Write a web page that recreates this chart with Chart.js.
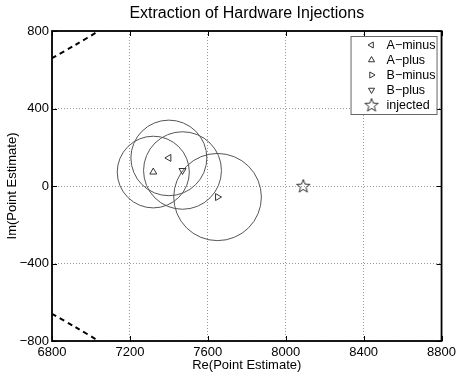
<!DOCTYPE html>
<html>
<head>
<meta charset="utf-8">
<script src="https://cdn.jsdelivr.net/npm/chart.js@4/dist/chart.umd.min.js"></script>
<style>
  html, body { margin: 0; padding: 0; background: #fff; }
  #wrap { width: 460px; height: 375px; }
</style>
</head>
<body>
<div id="wrap"><canvas id="chart"></canvas></div>
<script>
// values
const chartTitle = 'Extraction of Hardware Injections';
const seriesNames = ['A\u2212minus', 'A\u2212plus', 'B\u2212minus', 'B\u2212plus', 'injected'];
const estRe = [7400, 7320, 7650, 7470, 8090];
const estIm = [145, 72, -57, 80, 0];
const errRadius = [195, 185, 225, 200]; // one circle per estimate (not for the injected point)
const boundRe = [6800, 6920, 7040];
const boundUpperIm = [660, 728, 800];
const boundLowerIm = [-660, -728, -800];
const xTicks = [6800, 7200, 7600, 8000, 8400, 8800];
const yTicks = [-800, -400, 0, 400, 800];

Chart.defaults.font.family = '"Liberation Sans", Arial, Helvetica, sans-serif';
Chart.defaults.color = '#000';

const ink = '#333';

// five point star for the injected marker
const starImg = document.createElement('canvas');
starImg.width = 16;
starImg.height = 16;
(function () {
  const c = starImg.getContext('2d');
  c.strokeStyle = ink;
  c.lineWidth = 1;
  c.beginPath();
  for (let k = 0; k < 10; k++) {
    const r = k % 2 === 0 ? 7 : 2.9;
    const a = -Math.PI / 2 + k * Math.PI / 5;
    const px = 8 + r * Math.cos(a), py = 8.5 + r * Math.sin(a);
    if (k === 0) c.moveTo(px, py); else c.lineTo(px, py);
  }
  c.closePath();
  c.stroke();
})();

const markerStyles = [
  { pointStyle: 'triangle', rotation: -90 },
  { pointStyle: 'triangle', rotation: 0 },
  { pointStyle: 'triangle', rotation: 90 },
  { pointStyle: 'triangle', rotation: 180 },
  { pointStyle: starImg, rotation: 0 }
];

const markerSets = seriesNames.map((name, i) => ({
  label: name,
  data: [{ x: estRe[i], y: estIm[i] }],
  pointStyle: markerStyles[i].pointStyle,
  rotation: markerStyles[i].rotation,
  pointRadius: 4,
  borderWidth: 1,
  borderColor: ink,
  backgroundColor: 'rgba(0,0,0,0)'
}));

const boundSet = (ims) => ({
  label: '',
  data: boundRe.map((v, i) => ({ x: v, y: ims[i] })),
  showLine: true,
  borderColor: '#000',
  borderWidth: 2,
  borderDash: [5, 4],
  pointRadius: 0,
  tension: 0.3
});

const circlesPlugin = {
  id: 'errCircles',
  beforeDatasetsDraw(chart) {
    const { ctx, chartArea, scales: { x, y } } = chart;
    ctx.save();
    ctx.beginPath();
    ctx.rect(chartArea.left, chartArea.top, chartArea.width, chartArea.height);
    ctx.clip();
    ctx.strokeStyle = '#555';
    ctx.lineWidth = 1;
    errRadius.forEach((r, i) => {
      const cx = x.getPixelForValue(estRe[i]);
      const cy = y.getPixelForValue(estIm[i]);
      const rx = Math.abs(x.getPixelForValue(estRe[i] + r) - cx);
      const ry = Math.abs(y.getPixelForValue(estIm[i] + r) - cy);
      ctx.beginPath();
      ctx.ellipse(cx, cy, rx, ry, 0, 0, Math.PI * 2);
      ctx.stroke();
    });
    ctx.restore();
  }
};

// box round the axes with inward ticks, title over the axes, then the legend
const framePlugin = {
  id: 'frame',
  afterDraw(chart) {
    const { ctx, chartArea: a, scales: { x, y } } = chart;
    ctx.save();
    ctx.strokeStyle = '#000';
    ctx.lineWidth = 1.8;
    ctx.strokeRect(a.left, a.top, a.width, a.height);
    ctx.lineWidth = 1;
    ctx.beginPath();
    xTicks.forEach(v => {
      const px = Math.round(x.getPixelForValue(v)) + 0.5;
      ctx.moveTo(px, a.bottom); ctx.lineTo(px, a.bottom - 5);
      ctx.moveTo(px, a.top); ctx.lineTo(px, a.top + 5);
    });
    yTicks.forEach(v => {
      const py = Math.round(y.getPixelForValue(v)) + 0.5;
      ctx.moveTo(a.left, py); ctx.lineTo(a.left + 5, py);
      ctx.moveTo(a.right, py); ctx.lineTo(a.right - 5, py);
    });
    ctx.stroke();

    ctx.fillStyle = '#000';
    ctx.font = '16px "Liberation Sans", Arial, sans-serif';
    ctx.textAlign = 'center';
    ctx.textBaseline = 'middle';
    ctx.fillText(chartTitle, (a.left + a.right) / 2, 14);

    // legend
    const bx = a.right - 91, by = a.top + 5, bw = 86, bh = 78;
    ctx.fillStyle = '#fff';
    ctx.fillRect(bx, by, bw, bh);
    ctx.strokeStyle = '#666';
    ctx.lineWidth = 1;
    ctx.strokeRect(bx + 0.5, by + 0.5, bw, bh);
    ctx.font = '12.5px "Liberation Sans", Arial, sans-serif';
    ctx.textAlign = 'left';
    seriesNames.forEach((name, i) => {
      const ry = by + 9 + i * 15;
      ctx.strokeStyle = ink;
      ctx.fillStyle = 'rgba(0,0,0,0)';
      Chart.helpers.drawPoint(ctx, {
        pointStyle: markerStyles[i].pointStyle,
        rotation: markerStyles[i].rotation,
        radius: 3.5,
        borderWidth: 1
      }, bx + 21, ry);
      ctx.fillStyle = '#000';
      ctx.fillText(name, bx + 36, ry + 1);
    });
    ctx.restore();
  }
};

const fmt = v => String(v).replace('-', '\u2212');

new Chart(document.getElementById('chart'), {
  type: 'scatter',
  data: {
    datasets: [...markerSets, boundSet(boundUpperIm), boundSet(boundLowerIm)]
  },
  options: {
    responsive: true,
    maintainAspectRatio: false,
    animation: false,
    layout: { padding: { left: 0, right: 18, top: 31, bottom: 0 } },
    plugins: {
      legend: { display: false },
      tooltip: { enabled: false },
      title: { display: false }
    },
    scales: {
      x: {
        type: 'linear',
        min: 6800,
        max: 8800,
        afterBuildTicks: s => { s.ticks = xTicks.map(v => ({ value: v })); },
        afterFit: s => { s.height = 34; },
        ticks: { callback: fmt, font: { size: 13 }, padding: 4, maxRotation: 0 },
        grid: { color: '#999', lineWidth: 1, drawTicks: false },
        border: { display: false, dash: [1, 2] },
        title: {
          display: true,
          text: 'Re(Point Estimate)',
          font: { size: 13 },
          padding: { top: 0, bottom: 2 }
        }
      },
      y: {
        type: 'linear',
        min: -800,
        max: 800,
        afterBuildTicks: s => { s.ticks = yTicks.map(v => ({ value: v })); },
        afterFit: s => { s.width = 52; },
        ticks: { callback: fmt, font: { size: 13 }, padding: 3 },
        grid: { color: '#999', lineWidth: 1, drawTicks: false },
        border: { display: false, dash: [1, 2] },
        title: {
          display: true,
          text: 'Im(Point Estimate)',
          font: { size: 13 },
          padding: { top: 5, bottom: 0 }
        }
      }
    }
  },
  plugins: [circlesPlugin, framePlugin]
});
</script>
</body>
</html>
